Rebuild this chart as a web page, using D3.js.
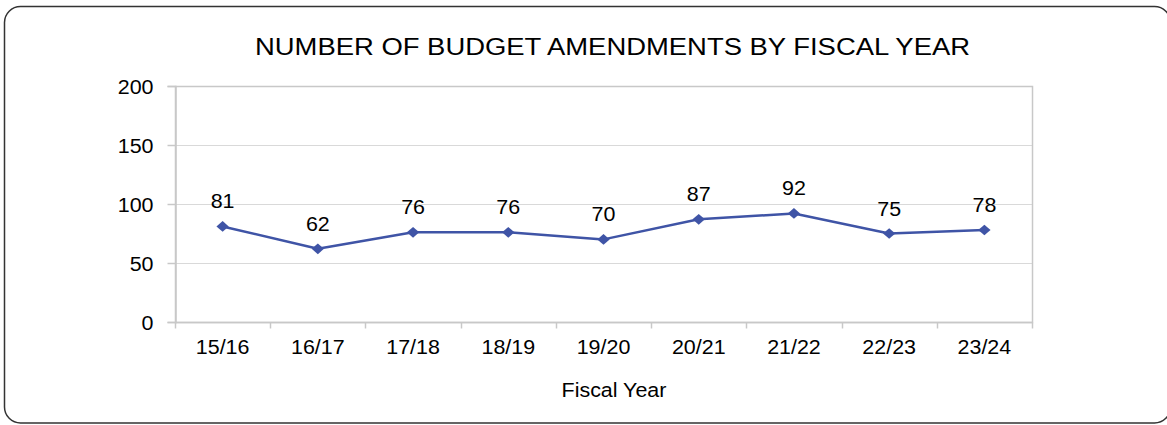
<!DOCTYPE html>
<html>
<head>
<meta charset="utf-8">
<script src="https://cdn.jsdelivr.net/npm/d3@7"></script>
<style>
  html, body { margin: 0; padding: 0; background: #fff; }
  svg { display: block; }
  text { font-family: "Liberation Sans", Arial, sans-serif; fill: #000; }
</style>
</head>
<body>
<svg id="chart" width="1167" height="425"></svg>
<script>
// Budget amendments per fiscal year
const fiscalYears = ["15/16", "16/17", "17/18", "18/19", "19/20", "20/21", "21/22", "22/23", "23/24"];
const amendments = [81, 62, 76, 76, 70, 87, 92, 75, 78];
const yTicks = [0, 50, 100, 150, 200];

const W = 1167, H = 425;
const plot = { left: 175, right: 1032, top: 86, bottom: 322 };
const stretch = 1.1; // text is drawn slightly wide

const svg = d3.select("#chart");

// outer rounded frame
svg.append("rect")
  .attr("x", 4.5).attr("y", 6.5)
  .attr("width", 1166).attr("height", 416.5)
  .attr("rx", 16).attr("ry", 16)
  .attr("fill", "#fff")
  .attr("stroke", "#333")
  .attr("stroke-width", 1.5);

const x = d3.scaleBand().domain(fiscalYears).range([plot.left, plot.right]).paddingInner(0).paddingOuter(0);
const y = d3.scaleLinear().domain([0, 200]).range([plot.bottom, plot.top]);

// horizontal gridlines
svg.append("g")
  .selectAll("line")
  .data(yTicks.filter(v => v > 0 && v < 200))
  .join("line")
  .attr("x1", plot.left).attr("x2", plot.right)
  .attr("y1", d => Math.round(y(d)) + 0.5).attr("y2", d => Math.round(y(d)) + 0.5)
  .attr("stroke", "#d9d9d9").attr("stroke-width", 1);

// plot area frame
svg.append("rect")
  .attr("x", plot.left + 0.5).attr("y", plot.top + 0.5)
  .attr("width", plot.right - plot.left).attr("height", plot.bottom - plot.top)
  .attr("fill", "none")
  .attr("stroke", "#c8c8c8").attr("stroke-width", 1.5);

// y axis
const yAxis = svg.append("g")
  .attr("transform", `translate(${plot.left + 0.5},0)`)
  .call(d3.axisLeft(y).tickValues(yTicks).tickSize(8).tickPadding(0).tickFormat(d3.format("d")));
yAxis.select(".domain").attr("stroke", "#c8c8c8").attr("stroke-width", 1.5);
yAxis.selectAll(".tick line").attr("stroke", "#c8c8c8").attr("stroke-width", 1.5);
yAxis.selectAll(".tick text")
  .attr("x", null).attr("dy", null)
  .attr("text-anchor", "end")
  .attr("dominant-baseline", "central")
  .style("font-size", "19.5px")
  .attr("transform", `translate(${153 - plot.left},0) scale(${stretch},1)`);

// x axis with ticks at category boundaries
const xAxis = svg.append("g")
  .attr("transform", `translate(0,${plot.bottom + 0.5})`);
xAxis.append("line")
  .attr("x1", plot.left).attr("x2", plot.right)
  .attr("stroke", "#c8c8c8").attr("stroke-width", 1.5);
const bounds = fiscalYears.map(d => x(d)).concat([x(fiscalYears[fiscalYears.length - 1]) + x.bandwidth()]);
xAxis.selectAll("line.tk")
  .data(bounds)
  .join("line").attr("class", "tk")
  .attr("x1", d => Math.round(d) + 0.5).attr("x2", d => Math.round(d) + 0.5)
  .attr("y1", 0).attr("y2", 6)
  .attr("stroke", "#c8c8c8").attr("stroke-width", 1.5);
xAxis.selectAll("text")
  .data(fiscalYears)
  .join("text")
  .attr("text-anchor", "middle")
  .attr("transform", d => `translate(${x(d) + x.bandwidth() / 2},31) scale(${stretch},1)`)
  .style("font-size", "19.5px")
  .text(d => d);

// series line
const cx = d => x(d) + x.bandwidth() / 2;
const series = fiscalYears.map((d, i) => ({ cat: d, v: amendments[i] }));
svg.append("path")
  .datum(series)
  .attr("fill", "none")
  .attr("stroke", "#3f54a6")
  .attr("stroke-width", 2.5)
  .attr("stroke-linejoin", "round")
  .attr("d", d3.line().x(d => cx(d.cat)).y(d => y(d.v)));

// diamond markers
svg.append("g")
  .selectAll("path")
  .data(series)
  .join("path")
  .attr("transform", d => `translate(${cx(d.cat)},${y(d.v)}) scale(1.1,0.95)`)
  .attr("d", d3.symbol().type(d3.symbolDiamond2).size(80))
  .attr("fill", "#3f54a6");

// value labels
svg.append("g")
  .selectAll("text")
  .data(series)
  .join("text")
  .attr("text-anchor", "middle")
  .attr("transform", d => `translate(${cx(d.cat)},${y(d.v) - 18}) scale(${stretch},1)`)
  .style("font-size", "19.5px")
  .text(d => d.v);

// title
svg.append("text")
  .attr("x", 255).attr("y", 55)
  .attr("textLength", 715)
  .attr("lengthAdjust", "spacingAndGlyphs")
  .style("font-size", "23.5px")
  .text("NUMBER  OF BUDGET AMENDMENTS  BY FISCAL YEAR");

// axis title
svg.append("text")
  .attr("text-anchor", "middle")
  .attr("transform", `translate(614,397) scale(${stretch},1)`)
  .style("font-size", "19.5px")
  .text("Fiscal Year");
</script>
</body>
</html>
